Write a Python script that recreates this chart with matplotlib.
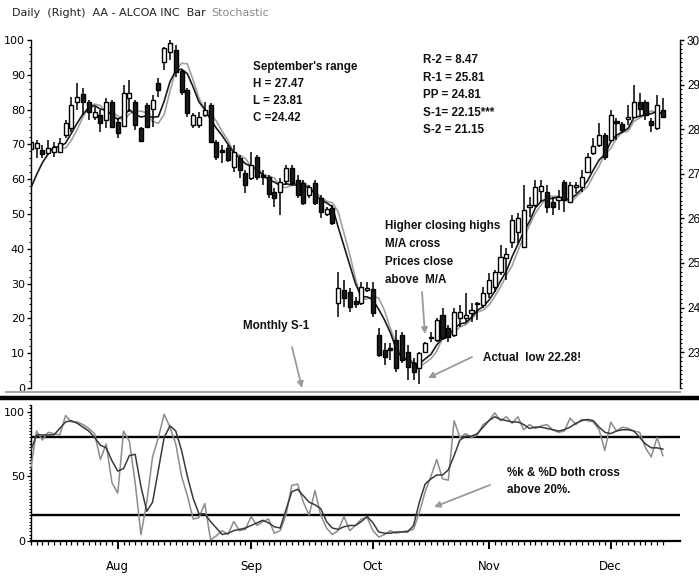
import numpy as np
import pandas as pd
import matplotlib
matplotlib.use('Agg')
import matplotlib.pyplot as plt
from matplotlib.lines import Line2D
from matplotlib.patches import FancyArrowPatch
from matplotlib.ticker import MultipleLocator, FixedLocator

# ---------------- data ----------------
opens = [27.56,27.58,27.53,27.47,27.49,27.49,27.87,28.03,28.61,28.79,
         28.61,28.27,28.32,28.21,28.61,28.16,28.07,28.70,28.61,28.03,
         28.54,28.45,29.04,29.51,29.73,29.78,29.30,28.88,28.09,28.09,
         28.32,28.54,27.71,27.53,27.58,27.15,27.35,27.02,26.91,27.38,
         26.97,26.93,26.59,26.59,26.84,27.13,26.86,26.79,26.53,26.79,
         26.46,26.10,26.23,24.10,24.40,24.35,24.15,24.10,24.40,24.42,
         23.39,23.05,23.09,23.27,23.39,23.00,22.76,22.65,23.00,23.32,
         23.27,23.83,23.54,23.39,23.77,23.77,23.88,24.08,24.06,24.33,
         24.46,24.80,25.11,25.47,25.70,25.36,26.26,26.30,26.61,26.59,
         26.37,26.41,26.82,26.37,26.70,26.70,27.04,27.47,27.65,27.87,
         27.76,28.18,28.12,28.23,28.27,28.61,28.61,28.18,28.03,28.43]
highs = [27.94,27.76,27.65,27.76,27.71,27.80,28.21,28.72,29.04,28.92,
         28.65,28.50,28.43,28.70,28.65,28.25,28.99,29.10,28.65,28.05,
         28.59,28.77,29.15,29.84,30.00,29.89,29.33,28.92,28.36,28.39,
         28.61,28.59,27.76,27.65,27.65,27.65,27.42,27.09,27.49,27.42,
         27.09,26.97,26.68,26.91,27.20,27.20,26.97,26.86,26.75,26.86,
         26.53,26.26,26.30,24.80,24.62,24.44,24.24,24.57,24.57,24.57,
         23.54,23.21,23.21,23.50,23.45,23.16,22.87,23.00,23.23,23.45,
         23.77,23.99,23.61,23.99,24.06,24.33,24.10,24.13,24.46,24.78,
         24.84,25.40,25.34,26.08,26.12,26.75,26.48,26.86,26.86,26.75,
         26.48,26.64,26.86,26.82,26.82,27.09,27.47,27.80,28.14,27.92,
         28.43,28.25,28.16,28.54,28.99,28.81,28.65,28.25,28.77,28.70]
lows = [27.53,27.35,27.35,27.42,27.38,27.47,27.80,27.94,28.43,28.32,
        28.21,28.21,27.94,28.03,28.03,27.80,28.05,28.39,27.98,27.71,
        28.03,28.05,28.72,29.33,29.55,29.17,28.77,28.27,28.03,28.03,
        28.27,27.69,27.31,27.24,27.27,27.04,26.91,26.57,26.86,26.86,
        26.75,26.46,26.26,26.08,26.75,26.75,26.46,26.30,26.46,26.30,
        26.01,26.05,25.85,23.79,24.01,23.90,23.99,24.06,24.35,23.79,
        22.89,22.71,22.83,22.56,22.76,22.38,22.38,22.28,22.98,23.23,
        23.23,23.27,23.23,23.34,23.57,23.68,23.68,23.72,23.99,24.22,
        24.35,24.73,24.62,25.34,25.45,25.34,26.03,26.26,26.37,26.12,
        26.08,26.19,26.14,26.35,26.57,26.59,27.02,27.42,27.60,27.31,
        27.71,27.76,27.92,28.09,28.27,28.27,28.21,27.94,27.98,28.25]
closes = [27.71,27.69,27.44,27.58,27.60,27.69,28.14,28.54,28.72,28.61,
          28.39,28.39,28.14,28.61,28.05,27.91,28.81,28.81,28.09,27.74,
          28.05,28.65,28.88,29.82,29.93,29.28,28.83,28.36,28.32,28.27,
          28.43,27.71,27.38,27.49,27.31,27.49,27.09,26.75,27.20,26.93,
          26.93,26.55,26.46,26.82,27.13,26.79,26.53,26.35,26.70,26.35,
          26.14,26.21,25.90,24.44,24.22,24.01,24.08,24.46,24.44,23.88,
          22.94,22.89,23.05,22.65,22.83,22.67,22.56,22.98,23.21,23.34,
          23.72,23.32,23.34,23.90,23.90,23.83,23.95,24.10,24.33,24.62,
          24.80,25.13,25.20,25.96,26.01,26.19,26.30,26.70,26.73,26.26,
          26.26,26.48,26.41,26.75,26.75,26.93,27.38,27.62,27.87,27.38,
          28.32,28.14,27.98,28.27,28.61,28.45,28.32,28.09,28.54,28.27]

# moving-average line starts (before the window fills)
ma_fast_start = [26.68, 26.98, 27.25, 27.45]

stoch_k = [56,85,78,84,83,82,97,92,92,90,87,83,63,75,45,37,85,77,45,5,
           30,65,80,98,88,75,50,35,17,18,29,1,4,8,5,15,8,9,19,12,
           15,17,6,8,20,43,44,30,20,39,20,10,5,8,19,8,
           12,17,18,8,3,5,8,6,7,8,9,22,38,50,63,48,47,93,80,83,
           80,82,90,93,99,93,96,91,96,86,90,87,89,90,86,84,85,95,90,94,
           93,92,86,70,92,85,88,87,85,84,72,65,80,66]
stoch_d = [70,82,82,82,82,87,92,93,91,88,85,80,74,72,62,54,56,66,67,42,
           23,30,55,80,89,85,70,50,33,21,21,15,10,5,6,8,9,10,12,14,
           16,14,11,10,24,38,40,35,30,28,25,15,10,9,11,12,
           12,15,19,14,7,6,6,7,7,7,12,30,44,48,51,51,55,66,78,81,
           81,83,88,93,96,94,93,92,92,90,87,88,88,87,86,85,86,88,91,93,
           94,93,88,84,83,85,86,86,85,80,75,72,72,71]

month_pos = [15, 38, 59, 79, 100]
month_labels = ['Aug', 'Sep', 'Oct', 'Nov', 'Dec']

# ---------------- figure ----------------
W, H = 699, 576
fig = plt.figure(figsize=(W/100, H/100), dpi=100)
fig.patch.set_facecolor('white')

def fx(px):
    return px / W

def fy(py):
    return 1 - py / H

n = len(closes)
idx = np.arange(n)
xlim = (-0.05, 111.95)

# ---- top price panel ----
ax = fig.add_axes([fx(30.5), fy(388), fx(680) - fx(30.5), fy(40) - fy(388)])
axl = ax.twinx()
ax.set_xlim(*xlim)
ax.set_ylim(22.197, 30.0)

cl = pd.Series(closes)
ma_fast = cl.rolling(5).mean()
ma_fast.iloc[:len(ma_fast_start)] = ma_fast_start
ma_slow = cl.rolling(4).mean().shift(1)
ax.plot(idx, ma_slow, color='#a0a0a0', lw=1.2, zorder=2)
ax.plot(idx, ma_fast, color='#1a1a1a', lw=1.2, zorder=2)

o = np.array(opens); c = np.array(closes); h = np.array(highs); l = np.array(lows)
ax.vlines(idx, l, h, color='black', lw=1.1, zorder=3)
up = c >= o
body_lo = np.minimum(o, c)
body_h = np.maximum(np.abs(c - o), 0.03)
ax.bar(idx[up], body_h[up], bottom=body_lo[up], width=0.7,
       facecolor='white', edgecolor='black', linewidth=1.0, zorder=4)
ax.bar(idx[~up], body_h[~up], bottom=body_lo[~up], width=0.7,
       facecolor='#1c1c1c', edgecolor='black', linewidth=1.0, zorder=4)

for s in ['top', 'bottom', 'left']:
    ax.spines[s].set_visible(False)
ax.spines['right'].set_linewidth(1.0)
ax.set_xticks([])
ax.yaxis.tick_right()
ax.set_yticks(np.arange(23, 31, 1))
ax.yaxis.set_minor_locator(MultipleLocator(0.1))
ax.tick_params(axis='y', which='major', length=3, width=1, labelsize=8.5, pad=2,
               left=False, labelleft=False, right=True, labelright=True)
ax.tick_params(axis='y', which='minor', length=1.5, width=0.8, left=False, right=True)
for t in ax.get_yticklabels():
    t.set_fontfamily('Liberation Sans')

axl.set_ylim(0, 100)
for s in ['top', 'bottom', 'right']:
    axl.spines[s].set_visible(False)
axl.spines['left'].set_linewidth(1.0)
axl.set_yticks(np.arange(0, 101, 10))
axl.yaxis.set_minor_locator(MultipleLocator(2))
axl.tick_params(axis='y', which='major', length=3, width=1, labelsize=8, pad=1,
                left=True, labelleft=True, right=False, labelright=False)
axl.tick_params(axis='y', which='minor', length=1.5, width=0.8, left=True, right=False)
axl.set_xticks([])

# ---- bottom stochastic panel ----
axs = fig.add_axes([fx(30.5), fy(541), fx(680) - fx(30.5), fy(404.5) - fy(541)])
axs.set_xlim(*xlim)
axs.set_ylim(0, 105.5)
axs.plot(idx, stoch_k, color='#8c8c8c', lw=1.1, zorder=3)
axs.plot(idx, stoch_d, color='#3a3a3a', lw=1.1, zorder=3)
axs.axhline(80, color='black', lw=1.7, zorder=2)
axs.axhline(20, color='black', lw=1.7, zorder=2)
for s in ['top', 'right']:
    axs.spines[s].set_visible(False)
axs.spines['left'].set_linewidth(1.0)
axs.spines['bottom'].set_linewidth(1.6)
axs.set_yticks([0, 50, 100])
axs.yaxis.set_minor_locator(MultipleLocator(2.5))
axs.tick_params(axis='y', which='major', length=3, width=1, labelsize=8, pad=1)
axs.tick_params(axis='y', which='minor', length=1.5, width=0.8)
axs.set_xticks(month_pos)
axs.set_xticklabels(month_labels)
axs.xaxis.set_minor_locator(FixedLocator(np.arange(0, n)))
axs.tick_params(axis='x', which='major', length=6, width=1.4, labelsize=8.5, pad=8)
axs.tick_params(axis='x', which='minor', length=3, width=0.9)

# separator lines
fig.add_artist(Line2D([fx(6), fx(680)], [fy(392), fy(392)], color='#a8a8a8', lw=1.5))
fig.add_artist(Line2D([0, 1], [fy(397.5), fy(397.5)], color='black', lw=3.2))

# ---- title ----
t1 = fig.text(fx(12), fy(13), 'Daily  (Right)  AA - ALCOA INC  Bar', fontsize=8,
              va='center', ha='left', color='#222222')
fig.canvas.draw()
bb = t1.get_window_extent()
fig.text((bb.x1 + 6) / W, fy(13), 'Stochastic', fontsize=8, va='center', ha='left',
         color='#8a8a8a')

# ---- annotations ----
afont = dict(fontsize=8.4, family='Liberation Sans', fontweight='bold',
             color='#111111', va='center', ha='left')
for txt, y in [("September's range", 67), ('H = 27.47', 84), ('L = 23.81', 101), ('C =24.42', 118)]:
    fig.text(fx(253), fy(y), txt, **afont)
for txt, y in [('R-2 = 8.47', 60), ('R-1 = 25.81', 78), ('PP = 24.81', 95),
               ('S-1= 22.15***', 113), ('S-2 = 21.15', 130)]:
    fig.text(fx(423), fy(y), txt, **afont)
for txt, y in [('Higher closing highs', 226), ('M/A cross', 244), ('Prices close', 262), ('above  M/A', 280)]:
    fig.text(fx(385), fy(y), txt, **afont)
fig.text(fx(483), fy(358), 'Actual  low 22.28!', **afont)
fig.text(fx(243), fy(326), 'Monthly S-1', **afont)
fig.text(fx(507), fy(473), '%k & %D both cross', **afont)
fig.text(fx(507), fy(490), 'above 20%.', **afont)

arrow = dict(arrowstyle='-|>', color='#9a9a9a', lw=1.3, mutation_scale=9, shrinkA=0, shrinkB=0)
def farrow(x0, y0, x1, y1):
    fig.add_artist(FancyArrowPatch((fx(x0), fy(y0)), (fx(x1), fy(y1)),
                                   transform=fig.transFigure, **arrow))

farrow(422, 292, 425, 334)
farrow(472, 357, 428, 378)
farrow(292, 347, 302, 388)
farrow(490, 485, 434, 507)

fig.savefig('out.png', dpi=100, facecolor='white')
